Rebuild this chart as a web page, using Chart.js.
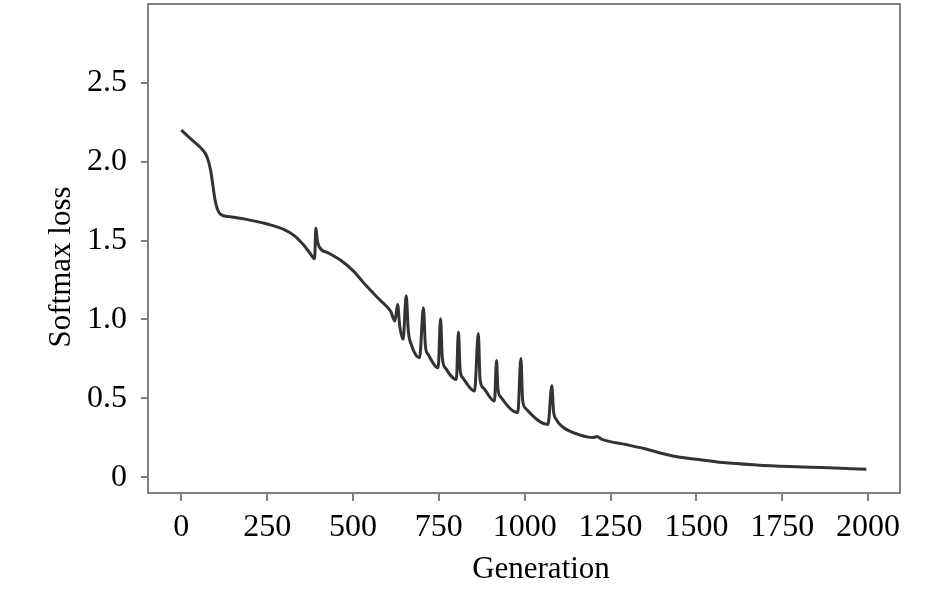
<!DOCTYPE html>
<html>
<head>
<meta charset="utf-8">
<script src="https://cdn.jsdelivr.net/npm/chart.js@4.4.0/dist/chart.umd.min.js"></script>
<style>
  html, body { margin: 0; padding: 0; background: #fff; }
  #wrap { width: 945px; height: 589px; }
</style>
</head>
<body>
<div id="wrap"><canvas id="lossChart"></canvas></div>
<script>
// generation (x) and softmax loss (y)
const generations = [
  0, 30, 60, 75, 85, 92, 98, 105, 115, 140, 200, 250, 300, 330, 355, 375, 388,
  392, 396, 402, 430, 461, 500, 540, 580, 610, 622,
  630, 636, 646, 655, 661, 670, 694,
  705, 711, 719, 748, 755, 760, 770, 801,
  807, 812, 820, 854, 865, 870, 880, 912,
  918, 922, 930, 980, 989, 994, 1003, 1068,
  1079, 1084, 1092, 1110, 1155, 1200, 1210, 1225,
  1300, 1350, 1431, 1500, 1577, 1674, 1771, 1868, 1995
];
const lossValues = [
  2.20, 2.14, 2.08, 2.03, 1.95, 1.85, 1.76, 1.70, 1.665, 1.652, 1.63, 1.605, 1.57, 1.53, 1.475, 1.42, 1.385,
  1.58, 1.50, 1.46, 1.42, 1.38, 1.31, 1.21, 1.12, 1.05, 0.99,
  1.095, 0.96, 0.875, 1.15, 0.93, 0.84, 0.757,
  1.074, 0.83, 0.778, 0.694, 1.004, 0.76, 0.69, 0.62,
  0.92, 0.68, 0.63, 0.546, 0.911, 0.62, 0.565, 0.483,
  0.74, 0.56, 0.51, 0.41, 0.753, 0.49, 0.435, 0.335,
  0.58, 0.42, 0.367, 0.32, 0.272, 0.252, 0.258, 0.24,
  0.205, 0.18, 0.135, 0.114, 0.093, 0.078, 0.068, 0.061, 0.051
];
const xTicks = [0, 250, 500, 750, 1000, 1250, 1500, 1750, 2000];
const yTicks = [0, 0.5, 1.0, 1.5, 2.0, 2.5];

const axisGrey = '#808080';
const serif = "'Liberation Serif', 'DejaVu Serif', serif";

// frame round the plot plus the two axis titles
const framePlugin = {
  id: 'frame',
  afterDraw(chart) {
    const { ctx, chartArea: a } = chart;
    ctx.save();
    ctx.strokeStyle = axisGrey;
    ctx.lineWidth = 2;
    ctx.strokeRect(a.left, a.top, a.right - a.left, a.bottom - a.top);
    ctx.fillStyle = '#000';
    ctx.font = '31px ' + serif;
    ctx.textAlign = 'center';
    ctx.textBaseline = 'middle';
    ctx.fillText('Generation', 541, 570);
    ctx.translate(62, 267);
    ctx.rotate(-Math.PI / 2);
    ctx.fillText('Softmax loss', 0, 0);
    ctx.restore();
  }
};

new Chart(document.getElementById('lossChart'), {
  type: 'line',
  data: {
    datasets: [{
      data: generations.map((g, i) => ({ x: g, y: lossValues[i] })),
      borderColor: '#333333',
      borderWidth: 3,
      pointRadius: 0,
      cubicInterpolationMode: 'monotone',
      fill: false
    }]
  },
  options: {
    responsive: true,
    maintainAspectRatio: false,
    animation: false,
    layout: { padding: { top: 4, right: 45, left: 0, bottom: 0 } },
    plugins: { legend: { display: false }, tooltip: { enabled: false } },
    scales: {
      x: {
        type: 'linear',
        min: -97,
        max: 2093,
        afterBuildTicks: s => { s.ticks = xTicks.map(v => ({ value: v })); },
        afterFit: s => { s.height = 96; s.paddingLeft = 0; s.paddingRight = 0; },
        grid: { drawOnChartArea: false, drawTicks: true, tickLength: 8, tickColor: axisGrey, lineWidth: 2 },
        border: { display: true, color: axisGrey, width: 2 },
        ticks: {
          color: '#000',
          padding: 7,
          maxRotation: 0,
          font: { family: serif, size: 32 },
          callback: v => String(v)
        }
      },
      y: {
        type: 'linear',
        min: -0.1,
        max: 3.0,
        afterBuildTicks: s => { s.ticks = yTicks.map(v => ({ value: v })); },
        afterFit: s => { s.width = 148; s.paddingTop = 0; s.paddingBottom = 0; },
        grid: { drawOnChartArea: false, drawTicks: true, tickLength: 7, tickColor: axisGrey, lineWidth: 2 },
        border: { display: true, color: axisGrey, width: 2 },
        ticks: {
          color: '#000',
          padding: 14,
          font: { family: serif, size: 32 },
          callback: v => (v === 0 ? '0' : v.toFixed(1))
        }
      }
    }
  },
  plugins: [framePlugin]
});
</script>
</body>
</html>
